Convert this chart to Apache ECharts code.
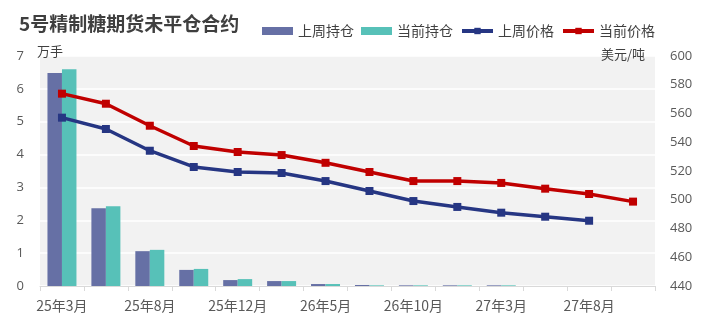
<!DOCTYPE html>
<html>
<head>
<meta charset="utf-8">
<script src="https://cdn.jsdelivr.net/npm/echarts@6/dist/echarts.min.js"></script>
<style>
  html, body { margin: 0; padding: 0; background: #ffffff; }
  #chart { width: 706px; height: 327px; }
</style>
</head>
<body>
<div id="chart"></div>
<script>
// Contract months (No.5 refined sugar futures)
const categories = ['25年3月', '25年5月', '25年8月', '25年10月', '25年12月', '26年3月', '26年5月',
  '26年8月', '26年10月', '26年12月', '27年3月', '27年5月', '27年8月', '27年10月'];

// Open interest, 10k lots
const prevWeekOI = [6.48, 2.37, 1.06, 0.49, 0.18, 0.15, 0.06, 0.03, 0.02, 0.02, 0.02, 0, 0, 0];
const currentOI  = [6.60, 2.43, 1.10, 0.52, 0.21, 0.15, 0.06, 0.02, 0.02, 0.02, 0.02, 0, 0, 0];

// Settlement prices, USD/ton
const prevWeekPrice = [557.1, 549.2, 534.1, 522.8, 519.3, 518.6, 513.0, 506.1, 499.1, 495.0, 491.0, 488.2, 485.4];
const currentPrice  = [573.8, 566.8, 551.5, 537.4, 533.2, 531.1, 525.7, 519.3, 513.0, 513.0, 511.7, 507.7, 504.0, 498.7];

// Axis ranges
const leftAxis  = { min: 0, max: 7, interval: 1 };
const rightAxis = { min: 440, max: 600, interval: 20 };

const FONT = '"Noto Sans CJK SC", "Noto Sans", sans-serif';
const NUM_FONT = '"Open Sans", "Noto Sans", sans-serif';
const labelColor = '#595959';

const chart = echarts.init(document.getElementById('chart'), null, { renderer: 'canvas' });

chart.setOption({
  animation: false,
  backgroundColor: '#ffffff',
  title: {
    text: '5号精制糖期货未平仓合约',
    left: 14,
    top: 9,
    textStyle: { fontFamily: FONT, fontSize: 19, fontWeight: 'bold', color: '#3f3f3f' }
  },
  legend: {
    left: 257,
    top: 19,
    itemWidth: 31,
    itemHeight: 8,
    itemGap: 7,
    textStyle: { fontFamily: FONT, fontSize: 14, color: '#404040' },
    data: [
      { name: '上周持仓', icon: 'rect' },
      { name: '当前持仓', icon: 'rect' },
      { name: '上周价格', lineStyle: { width: 4 } },
      { name: '当前价格', lineStyle: { width: 4 } }
    ]
  },
  grid: {
    left: 40,
    right: 51,
    top: 56,
    bottom: 41,
    show: true,
    backgroundColor: '#f2f2f2',
    borderWidth: 0
  },
  xAxis: {
    type: 'category',
    data: categories,
    axisLine: { lineStyle: { color: '#d9d9d9', width: 1 } },
    axisTick: { show: true, interval: 0, length: 5, lineStyle: { color: '#d9d9d9' } },
    axisLabel: { interval: 1, margin: 13, fontFamily: FONT, fontSize: 14, color: labelColor }
  },
  yAxis: [
    {
      type: 'value',
      min: leftAxis.min, max: leftAxis.max, interval: leftAxis.interval,
      name: '万手',
      nameLocation: 'end',
      nameGap: -2,
      nameTextStyle: { fontFamily: FONT, fontSize: 13, color: '#404040', align: 'left', padding: [0, 0, 0, -3] },
      axisLine: { show: false },
      axisTick: { show: false },
      axisLabel: { margin: 16, fontFamily: NUM_FONT, fontSize: 13, color: labelColor },
      splitLine: { show: true, lineStyle: { color: '#ffffff', width: 1.5 } }
    },
    {
      type: 'value',
      position: 'right',
      min: rightAxis.min, max: rightAxis.max, interval: rightAxis.interval,
      name: '美元/吨',
      nameLocation: 'end',
      nameGap: -5,
      nameTextStyle: { fontFamily: FONT, fontSize: 13, color: '#404040', align: 'right', padding: [0, 10, 0, 0] },
      axisLine: { show: false },
      axisTick: { show: false },
      axisLabel: { margin: 15, fontFamily: NUM_FONT, fontSize: 13, color: labelColor },
      splitLine: { show: false }
    }
  ],
  series: [
    {
      name: '上周持仓',
      type: 'bar',
      yAxisIndex: 0,
      data: prevWeekOI,
      barGap: '0%',
      barCategoryGap: '34%',
      itemStyle: { color: '#6670a5' }
    },
    {
      name: '当前持仓',
      type: 'bar',
      yAxisIndex: 0,
      data: currentOI,
      barGap: '0%',
      barCategoryGap: '34%',
      itemStyle: { color: '#57c1b8' }
    },
    {
      name: '上周价格',
      type: 'line',
      yAxisIndex: 1,
      data: prevWeekPrice,
      symbol: 'rect',
      symbolSize: 8,
      lineStyle: { color: '#263683', width: 3.5 },
      itemStyle: { color: '#263683' }
    },
    {
      name: '当前价格',
      type: 'line',
      yAxisIndex: 1,
      data: currentPrice,
      symbol: 'rect',
      symbolSize: 8,
      lineStyle: { color: '#c00000', width: 3.5 },
      itemStyle: { color: '#c00000' }
    }
  ]
});
</script>
</body>
</html>
